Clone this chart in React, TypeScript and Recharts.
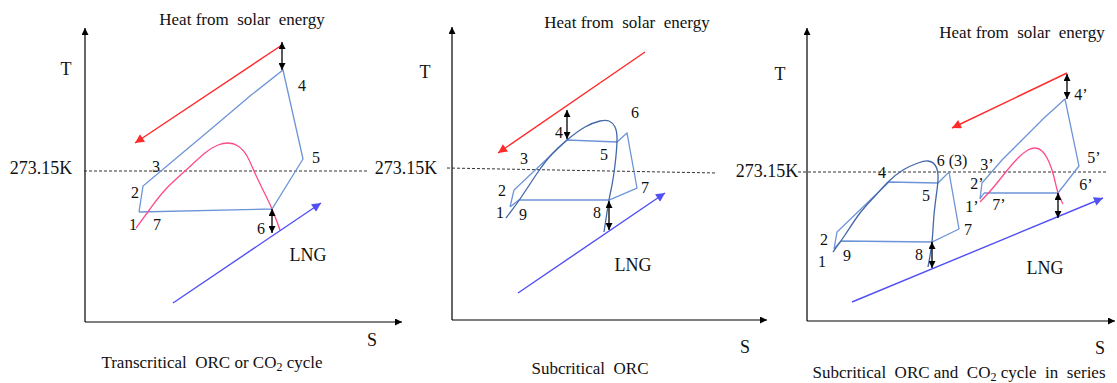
import React from "react";
import { ComposedChart, Line, Scatter, XAxis, YAxis } from "recharts";

// figure units: S to the right, T downwards
type Pt = { x: number; y: number };

// ---- panel 1: transcritical cycle
const p1Axis: Pt[] = [{ x: 85, y: 322 }, { x: 85, y: 28 }];
const p1AxisS: Pt[] = [{ x: 85, y: 322 }, { x: 402, y: 322 }];
const p1Ref: Pt[] = [{ x: 84, y: 171 }, { x: 367, y: 171 }];
const p1Cycle: Pt[] = [
  { x: 139, y: 212 }, { x: 143, y: 186 }, { x: 180, y: 155 }, { x: 217, y: 124 },
  { x: 250, y: 96 }, { x: 283, y: 70 }, { x: 303, y: 159 }, { x: 272, y: 209 },
  { x: 139, y: 212 },
];
const p1Dome: Pt[] = [
  { x: 136, y: 228 }, { x: 150, y: 209 }, { x: 165, y: 190 }, { x: 185, y: 171 },
  { x: 205, y: 153 }, { x: 218, y: 145 }, { x: 228, y: 143 }, { x: 238, y: 146 },
  { x: 247, y: 156 }, { x: 254, y: 171 }, { x: 263, y: 190 }, { x: 272, y: 209 },
  { x: 280, y: 230 },
];
const p1Solar: Pt[] = [{ x: 282, y: 45 }, { x: 135, y: 143 }];
const p1Lng: Pt[] = [{ x: 173, y: 303 }, { x: 321, y: 203 }];
const p1GapTop: Pt[] = [{ x: 282, y: 42 }, { x: 282, y: 70 }];
const p1GapLow: Pt[] = [{ x: 272, y: 209 }, { x: 272, y: 233 }];

// ---- panel 2: subcritical ORC
const p2Axis: Pt[] = [{ x: 452, y: 320 }, { x: 452, y: 27 }];
const p2AxisS: Pt[] = [{ x: 452, y: 320 }, { x: 767, y: 320 }];
const p2Ref: Pt[] = [{ x: 447, y: 168 }, { x: 717, y: 173 }];
const p2Cycle: Pt[] = [
  { x: 510, y: 207 }, { x: 514, y: 190 }, { x: 567, y: 140 }, { x: 617, y: 142 },
  { x: 627, y: 133 }, { x: 637, y: 188 }, { x: 609, y: 200 }, { x: 519, y: 200 },
  { x: 510, y: 207 },
];
const p2Dome: Pt[] = [
  { x: 506, y: 218 }, { x: 520, y: 199 }, { x: 538, y: 172 }, { x: 552, y: 154 },
  { x: 567, y: 140 }, { x: 585, y: 127 }, { x: 600, y: 121 }, { x: 609, y: 121 },
  { x: 615, y: 127 }, { x: 617, y: 140 }, { x: 615, y: 165 }, { x: 612, y: 185 },
  { x: 609, y: 200 }, { x: 604, y: 232 },
];
const p2Solar: Pt[] = [{ x: 645, y: 52 }, { x: 498, y: 153 }];
const p2Lng: Pt[] = [{ x: 518, y: 293 }, { x: 665, y: 193 }];
const p2GapTop: Pt[] = [{ x: 567, y: 110 }, { x: 567, y: 139 }];
const p2GapLow: Pt[] = [{ x: 609, y: 201 }, { x: 609, y: 230 }];

// ---- panel 3: ORC and CO2 in series
const p3Axis: Pt[] = [{ x: 807, y: 321 }, { x: 807, y: 28 }];
const p3AxisS: Pt[] = [{ x: 807, y: 321 }, { x: 1115, y: 321 }];
const p3Ref: Pt[] = [{ x: 798, y: 172 }, { x: 1107, y: 172 }];
const p3Orc: Pt[] = [
  { x: 834, y: 249 }, { x: 837, y: 232 }, { x: 889, y: 182 }, { x: 938, y: 183 },
  { x: 949, y: 172 }, { x: 959, y: 229 }, { x: 932, y: 242 }, { x: 841, y: 241 },
  { x: 834, y: 249 },
];
const p3OrcDome: Pt[] = [
  { x: 833, y: 252 }, { x: 845, y: 235 }, { x: 860, y: 213 }, { x: 875, y: 196 },
  { x: 888, y: 182 }, { x: 903, y: 170 }, { x: 918, y: 163 }, { x: 928, y: 161 },
  { x: 935, y: 165 }, { x: 938, y: 175 }, { x: 937, y: 190 }, { x: 934, y: 215 },
  { x: 932, y: 242 }, { x: 928, y: 267 },
];
const p3Co2: Pt[] = [
  { x: 984, y: 193 }, { x: 980, y: 199 }, { x: 982, y: 183 }, { x: 1002, y: 160 },
  { x: 1023, y: 139 }, { x: 1044, y: 118 }, { x: 1065, y: 99 }, { x: 1079, y: 166 },
  { x: 1058, y: 193 }, { x: 984, y: 193 },
];
const p3Co2Dome: Pt[] = [
  { x: 980, y: 202 }, { x: 992, y: 189 }, { x: 1005, y: 173 }, { x: 1018, y: 158 },
  { x: 1028, y: 150 }, { x: 1035, y: 148 }, { x: 1042, y: 151 }, { x: 1049, y: 162 },
  { x: 1054, y: 177 }, { x: 1058, y: 193 }, { x: 1063, y: 204 },
];
const p3Solar: Pt[] = [{ x: 1067, y: 73 }, { x: 952, y: 128 }];
const p3Lng: Pt[] = [{ x: 852, y: 302 }, { x: 1103, y: 198 }];
const p3GapTop: Pt[] = [{ x: 1067, y: 74 }, { x: 1067, y: 99 }];
const p3GapCo2: Pt[] = [{ x: 1058, y: 193 }, { x: 1058, y: 218 }];
const p3GapOrc: Pt[] = [{ x: 932, y: 242 }, { x: 932, y: 268 }];

// ---- text
const headings = [
  { x: 242, y: 19, text: "Heat from  solar  energy" },
  { x: 627, y: 22, text: "Heat from  solar  energy" },
  { x: 1022, y: 32, text: "Heat from  solar  energy" },
];

const titles = [
  { x: 41, y: 168, text: "273.15K" },
  { x: 406, y: 168, text: "273.15K" },
  { x: 767, y: 171, text: "273.15K" },
  { x: 66, y: 69, text: "T" },
  { x: 425, y: 72, text: "T" },
  { x: 780, y: 74, text: "T" },
  { x: 372, y: 340, text: "S" },
  { x: 745, y: 347, text: "S" },
  { x: 1100, y: 348, text: "S" },
  { x: 308, y: 255, text: "LNG" },
  { x: 633, y: 265, text: "LNG" },
  { x: 1045, y: 268, text: "LNG" },
];

const pointLabels = [
  { x: 133, y: 224, text: "1" }, { x: 135, y: 192, text: "2" }, { x: 156, y: 166, text: "3" },
  { x: 302, y: 85, text: "4" }, { x: 316, y: 157, text: "5" }, { x: 261, y: 228, text: "6" },
  { x: 157, y: 224, text: "7" },
  { x: 500, y: 212, text: "1" }, { x: 502, y: 190, text: "2" }, { x: 524, y: 158, text: "3" },
  { x: 559, y: 132, text: "4" }, { x: 604, y: 154, text: "5" }, { x: 635, y: 112, text: "6" },
  { x: 645, y: 187, text: "7" }, { x: 597, y: 212, text: "8" }, { x: 523, y: 214, text: "9" },
  { x: 822, y: 261, text: "1" }, { x: 824, y: 239, text: "2" }, { x: 882, y: 172, text: "4" },
  { x: 926, y: 195, text: "5" }, { x: 952, y: 160, text: "6 (3)" }, { x: 968, y: 229, text: "7" },
  { x: 919, y: 254, text: "8" }, { x: 847, y: 255, text: "9" },
  { x: 972, y: 206, text: "1\u2019" }, { x: 977, y: 183, text: "2\u2019" }, { x: 987, y: 164, text: "3\u2019" },
  { x: 1081, y: 94, text: "4\u2019" }, { x: 1094, y: 157, text: "5\u2019" }, { x: 1086, y: 184, text: "6\u2019" },
  { x: 999, y: 204, text: "7\u2019" },
];

const captions = [
  { x: 212, y: 362, before: "Transcritical  ORC or CO", sub: "2", after: " cycle" },
  { x: 590, y: 368, before: "Subcritical  ORC", sub: "", after: "" },
  { x: 959, y: 372, before: "Subcritical  ORC and  CO", sub: "2", after: " cycle  in  series" },
];

const FONT = '"Liberation Serif", "Times New Roman", serif';
const CYCLE = "#6d94d8";
const DOME = "#4468a8";
const PINK = "#ff4a8d";
const RED = "#ff2a2a";
const LNG = "#5050f5";

const makeText = (size: number) => (props: any) => (
  <text x={props.cx} y={props.cy} textAnchor="middle" dominantBaseline="central"
    fontFamily={FONT} fontSize={size} fill="#111" style={{ whiteSpace: "pre" }}>
    {props.payload.text}
  </text>
);
const HeadingShape = makeText(17);
const TitleShape = makeText(18);
const PointShape = makeText(16);

const CaptionShape = (props: any) => {
  const c = props.payload;
  return (
    <text x={props.cx} y={props.cy} textAnchor="middle" dominantBaseline="central"
      fontFamily={FONT} fontSize={17} fill="#111" style={{ whiteSpace: "pre" }}>
      {c.before}
      {c.sub ? <tspan fontSize={12} dy={5}>{c.sub}</tspan> : null}
      {c.sub ? <tspan dy={-5}>{c.after}</tspan> : null}
    </text>
  );
};

const seg = (key: string, data: Pt[], stroke: string, extra: any = {}) => (
  <Line key={key} data={data} dataKey="y" type="linear" stroke={stroke} strokeWidth={1.3}
    dot={false} activeDot={false} isAnimationActive={false} {...extra} />
);

export default function App() {
  return (
    <div style={{ position: "absolute", left: 0, top: 0, width: 1117, height: 383, background: "#fff" }}>
      <ComposedChart width={1117} height={383} margin={{ top: 0, right: 0, bottom: 0, left: 0 }}>
        <defs>
          <marker id="hBlack" viewBox="0 0 10 10" refX="10" refY="5" markerWidth="8" markerHeight="7"
            markerUnits="userSpaceOnUse" orient="auto-start-reverse">
            <path d="M0,0 L10,5 L0,10 z" fill="#000" />
          </marker>
          <marker id="hRed" viewBox="0 0 10 10" refX="10" refY="5" markerWidth="11" markerHeight="9"
            markerUnits="userSpaceOnUse" orient="auto-start-reverse">
            <path d="M0,0 L10,5 L0,10 z" fill={RED} />
          </marker>
          <marker id="hBlue" viewBox="0 0 10 10" refX="10" refY="5" markerWidth="11" markerHeight="9"
            markerUnits="userSpaceOnUse" orient="auto-start-reverse">
            <path d="M0,0 L10,5 L0,10 z" fill={LNG} />
          </marker>
        </defs>
        <XAxis type="number" dataKey="x" domain={[0, 1117]} hide allowDataOverflow />
        <YAxis type="number" dataKey="y" domain={[0, 383]} reversed hide allowDataOverflow />

        {[p1Axis, p1AxisS, p2Axis, p2AxisS, p3Axis, p3AxisS].map((d, i) =>
          seg(`ax${i}`, d, "#000", { strokeWidth: 1.2, markerEnd: "url(#hBlack)" }))}
        {[p1Ref, p2Ref, p3Ref].map((d, i) =>
          seg(`ref${i}`, d, "#333", { strokeWidth: 1, strokeDasharray: "3 2" }))}

        {seg("c1", p1Cycle, CYCLE)}
        {seg("c2", p2Cycle, CYCLE)}
        {seg("c3", p3Orc, CYCLE)}
        {seg("c4", p3Co2, CYCLE)}
        {seg("d1", p1Dome, PINK, { type: "natural" })}
        {seg("d2", p2Dome, DOME, { type: "natural" })}
        {seg("d3", p3OrcDome, DOME, { type: "natural" })}
        {seg("d4", p3Co2Dome, PINK, { type: "natural" })}

        {[p1Solar, p2Solar, p3Solar].map((d, i) =>
          seg(`sol${i}`, d, RED, { strokeWidth: 1.4, markerEnd: "url(#hRed)" }))}
        {[p1Lng, p2Lng, p3Lng].map((d, i) =>
          seg(`lng${i}`, d, LNG, { strokeWidth: 1.4, markerEnd: "url(#hBlue)" }))}
        {[p1GapTop, p1GapLow, p2GapTop, p2GapLow, p3GapTop, p3GapCo2, p3GapOrc].map((d, i) =>
          seg(`gap${i}`, d, "#000", { strokeWidth: 1.3, markerStart: "url(#hBlack)", markerEnd: "url(#hBlack)" }))}

        <Scatter data={headings} shape={HeadingShape} isAnimationActive={false} />
        <Scatter data={titles} shape={TitleShape} isAnimationActive={false} />
        <Scatter data={pointLabels} shape={PointShape} isAnimationActive={false} />
        <Scatter data={captions} shape={CaptionShape} isAnimationActive={false} />
      </ComposedChart>
    </div>
  );
}
